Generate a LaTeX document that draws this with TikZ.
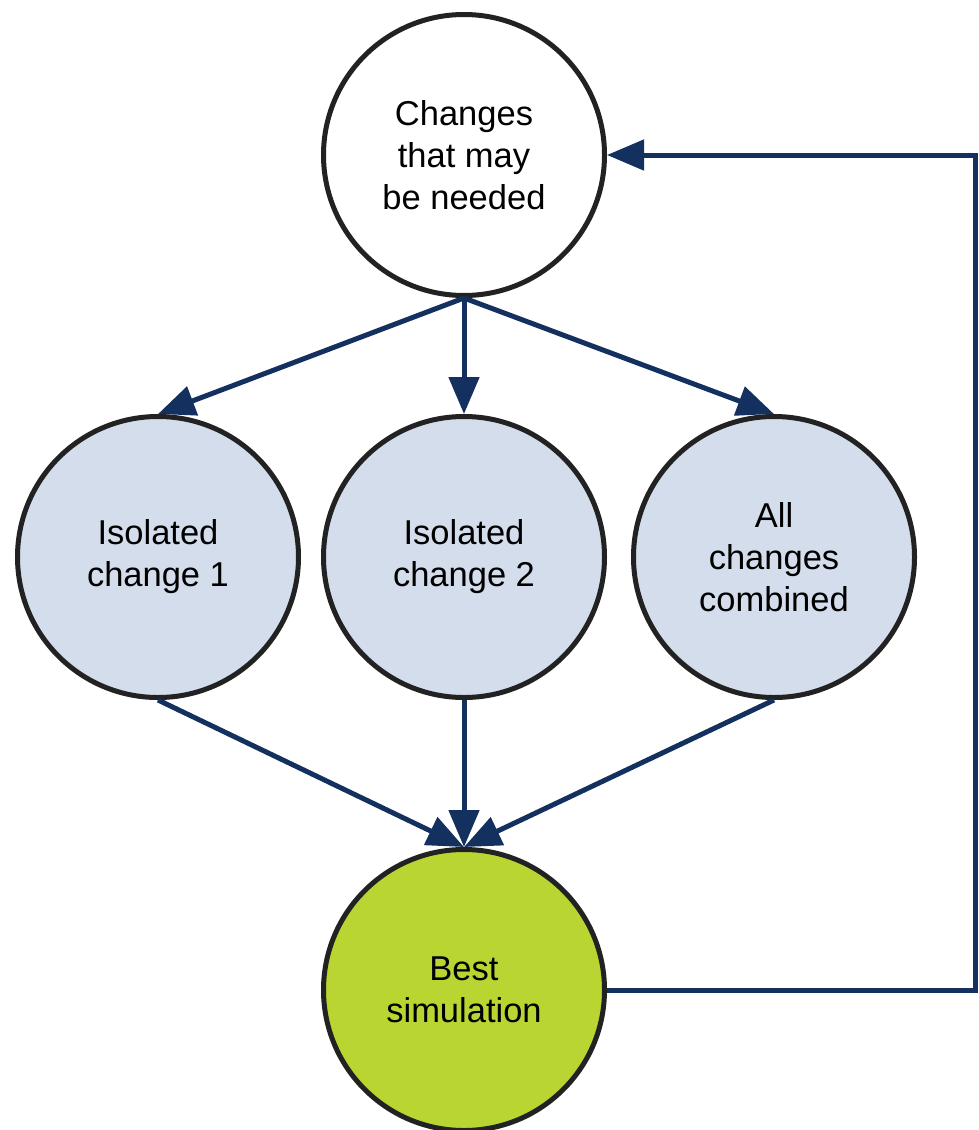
\documentclass[tikz,border=0pt]{standalone}
\usepackage{fontspec}
\setmainfont{Liberation Sans}
\usetikzlibrary{arrows.meta}
\definecolor{navy}{RGB}{20,48,94}
\definecolor{ringgray}{RGB}{34,34,34}
\definecolor{paleblue}{RGB}{212,221,236}
\definecolor{limegreen}{RGB}{185,213,50}
\tikzset{
  bubble/.style={circle, draw=ringgray, line width=5pt, minimum size=281pt, inner sep=0pt, align=center, font=\fontsize{34.5}{42}\selectfont},
  flow/.style={draw=navy, line width=5pt, -{Triangle[length=37pt,width=30pt]}},
}
\begin{document}
\begin{tikzpicture}[x=1pt,y=-1pt]
\useasboundingbox (0,0) rectangle (978,1130);
\node[bubble, fill=white] (top) at (464,155) {Changes\\that may\\be needed};
\node[bubble, fill=paleblue] (left) at (158,557) {Isolated\\change 1};
\node[bubble, fill=paleblue] (mid) at (464,557) {Isolated\\change 2};
\node[bubble, fill=paleblue] (right) at (774,557) {All\\changes\\combined};
\node[bubble, fill=limegreen] (best) at (464,990) {Best\\simulation};
\coordinate (corner) at (975.5,990);
\draw[flow] (top.south) -- (left.north);
\draw[flow] (top.south) -- (mid.north);
\draw[flow] (top.south) -- (right.north);
\draw[flow] (left.south) -- (best.north);
\draw[flow] (mid.south) -- (best.north);
\draw[flow] (right.south) -- (best.north);
\draw[flow] (best.east) -- (corner) |- (top.east);
\end{tikzpicture}
\end{document}
